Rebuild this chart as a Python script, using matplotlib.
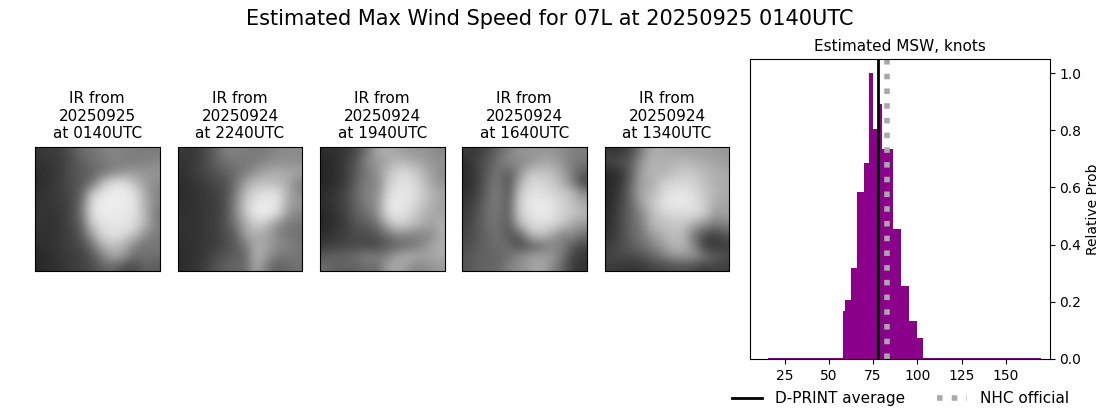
import numpy as np
import matplotlib
matplotlib.use('Agg')
import matplotlib.pyplot as plt

# --- histogram of estimated MSW ---
bin_edges = [15.6, 57.8, 58.9, 62.3, 65.7, 69.6, 72.5, 74.7, 78.1, 79.8, 86.0, 90.5, 95.0, 100.0, 103.0, 169.6]
rel_prob = [0.004, 0.168, 0.205, 0.318, 0.585, 0.685, 1.0, 0.805, 0.89, 0.733, 0.455, 0.255, 0.133, 0.073, 0.004]
dprint_avg = 77.5
nhc_official = 83.0

ir_labels = ['IR from\n20250925\nat 0140UTC', 'IR from\n20250924\nat 2240UTC', 'IR from\n20250924\nat 1940UTC',
             'IR from\n20250924\nat 1640UTC', 'IR from\n20250924\nat 1340UTC']

# coarse brightness of each IR tile, estimated by eye
ir_1 = [[55, 60, 65, 80, 110, 115, 125, 135, 130, 125, 125, 125],
        [50, 55, 60, 75, 95, 110, 120, 130, 125, 125, 130, 135],
        [45, 50, 60, 80, 90, 100, 115, 130, 150, 155, 150, 150],
        [45, 50, 65, 75, 90, 110, 190, 225, 225, 190, 155, 140],
        [50, 55, 60, 75, 95, 200, 230, 235, 235, 225, 170, 130],
        [50, 55, 60, 70, 110, 225, 235, 240, 235, 230, 175, 135],
        [55, 50, 55, 70, 115, 225, 235, 235, 230, 225, 180, 120],
        [50, 50, 55, 70, 100, 200, 225, 230, 230, 220, 180, 130],
        [50, 50, 55, 65, 85, 160, 215, 225, 215, 190, 140, 120],
        [45, 50, 55, 65, 75, 110, 175, 190, 175, 130, 115, 120],
        [40, 45, 55, 60, 65, 85, 130, 170, 150, 110, 115, 110],
        [40, 45, 50, 60, 65, 75, 95, 100, 75, 70, 100, 90]]
ir_2 = [[60, 55, 70, 90, 130, 130, 125, 120, 125, 135, 140, 140],
        [50, 55, 70, 95, 110, 120, 120, 125, 135, 145, 140, 140],
        [50, 60, 70, 80, 95, 110, 125, 150, 170, 175, 170, 165],
        [45, 50, 60, 70, 80, 110, 165, 190, 190, 185, 170, 130],
        [45, 50, 55, 65, 75, 120, 190, 215, 225, 225, 175, 135],
        [45, 50, 55, 60, 75, 130, 205, 235, 235, 230, 165, 150],
        [50, 50, 55, 60, 75, 130, 195, 235, 235, 215, 150, 130],
        [50, 50, 55, 60, 80, 115, 170, 205, 190, 140, 120, 120],
        [50, 50, 55, 60, 75, 90, 165, 170, 160, 135, 120, 110],
        [45, 50, 55, 60, 75, 90, 120, 175, 165, 140, 130, 120],
        [45, 50, 55, 70, 85, 95, 105, 185, 150, 120, 120, 115],
        [45, 50, 60, 80, 95, 100, 105, 170, 120, 95, 105, 115]]
ir_3 = [[45, 50, 55, 75, 110, 170, 170, 165, 150, 150, 145, 135],
        [40, 45, 60, 85, 135, 150, 170, 185, 175, 165, 150, 145],
        [40, 45, 60, 90, 120, 145, 190, 215, 215, 190, 165, 140],
        [40, 45, 60, 95, 130, 130, 200, 225, 225, 205, 170, 145],
        [45, 55, 70, 105, 130, 140, 215, 230, 230, 210, 185, 165],
        [45, 55, 70, 100, 125, 145, 230, 235, 225, 205, 180, 160],
        [40, 50, 65, 95, 110, 140, 220, 230, 215, 190, 170, 165],
        [40, 50, 60, 85, 90, 110, 175, 210, 195, 175, 160, 175],
        [45, 55, 65, 75, 75, 85, 110, 135, 130, 130, 135, 170],
        [60, 65, 70, 75, 70, 70, 90, 100, 110, 130, 160, 175],
        [90, 100, 100, 110, 130, 125, 135, 165, 180, 165, 165, 170],
        [110, 95, 100, 95, 110, 105, 160, 170, 145, 130, 145, 155]]
ir_4 = [[60, 55, 75, 100, 125, 150, 150, 150, 150, 140, 130, 125],
        [45, 70, 85, 115, 140, 135, 145, 165, 165, 150, 125, 120],
        [45, 60, 90, 120, 90, 140, 195, 195, 190, 165, 125, 90],
        [45, 60, 100, 125, 75, 170, 215, 215, 205, 180, 135, 70],
        [50, 65, 100, 130, 80, 200, 225, 225, 215, 205, 190, 140],
        [55, 75, 110, 125, 85, 210, 230, 235, 230, 210, 195, 170],
        [60, 80, 110, 120, 90, 205, 225, 235, 230, 210, 200, 180],
        [65, 85, 110, 115, 85, 175, 215, 220, 215, 200, 165, 150],
        [70, 85, 100, 115, 85, 90, 175, 195, 170, 125, 140, 110],
        [75, 90, 100, 110, 110, 75, 85, 110, 125, 135, 90, 70],
        [85, 95, 100, 100, 110, 140, 160, 160, 160, 120, 70, 55],
        [85, 95, 100, 105, 130, 140, 155, 170, 140, 105, 60, 50]]
ir_5 = [[55, 50, 70, 120, 175, 170, 165, 160, 160, 160, 155, 150],
        [70, 80, 90, 150, 180, 175, 180, 185, 175, 170, 165, 155],
        [40, 50, 90, 160, 185, 175, 190, 200, 200, 185, 175, 170],
        [40, 50, 100, 165, 170, 205, 215, 215, 210, 190, 175, 170],
        [40, 60, 105, 170, 180, 215, 225, 230, 220, 200, 180, 170],
        [40, 65, 100, 160, 195, 225, 235, 235, 225, 205, 170, 165],
        [45, 70, 100, 130, 185, 205, 215, 215, 220, 205, 155, 160],
        [45, 70, 100, 125, 180, 190, 195, 200, 165, 140, 120, 130],
        [50, 70, 100, 115, 150, 175, 190, 180, 120, 75, 60, 85],
        [60, 75, 90, 110, 125, 155, 180, 185, 135, 60, 55, 60],
        [65, 75, 75, 80, 100, 120, 145, 150, 150, 120, 95, 80],
        [60, 55, 50, 55, 65, 70, 75, 80, 70, 60, 65, 60]]
ir_tiles = [ir_1, ir_2, ir_3, ir_4, ir_5]

W, H = 1100, 409


def px_axes(fig, left, top, right, bottom):
    # axes placed by pixel box, y counted from the top of the image
    return fig.add_axes([left / W, 1 - bottom / H, (right - left) / W, (bottom - top) / H])


fig = plt.figure(figsize=(W / 100, H / 100), dpi=100)
fig.suptitle('Estimated Max Wind Speed for 07L at 20250925 0140UTC', fontsize=15, x=0.5, y=0.977)

# IR tiles
tile_lefts = [35, 177.7, 320, 462, 604.7]
for left, tile, label in zip(tile_lefts, ir_tiles, ir_labels):
    ax = px_axes(fig, left, 147, left + 124.6, 271)
    ax.imshow(np.array(tile), cmap='gray', vmin=0, vmax=255, interpolation='bicubic', aspect='auto')
    # stay just inside the image, the resampled edge leaves a white line otherwise
    ax.set_xlim(-0.4, 11.4)
    ax.set_ylim(11.4, -0.4)
    ax.set_xticks([])
    ax.set_yticks([])
    ax.set_title(label, fontsize=11, pad=6.5)

# histogram
ax = px_axes(fig, 750, 59, 1049.7, 359)
ax.stairs(rel_prob, bin_edges, fill=True, color='darkmagenta')
line_avg = ax.axvline(dprint_avg, color='black', lw=2, label='D-PRINT average')
line_nhc = ax.axvline(nhc_official, color='darkgray', lw=4, ls=':', label='NHC official')
ax.set_xlim(5.5, 174.7)
ax.set_ylim(0, 1.049)
ax.set_xticks([25, 50, 75, 100, 125, 150])
ax.set_yticks([0, 0.2, 0.4, 0.6, 0.8, 1.0])
ax.yaxis.tick_right()
ax.yaxis.set_label_position('right')
ax.set_ylabel('Relative Prob', labelpad=3)
ax.set_title('Estimated MSW, knots', fontsize=11)

fig.legend(handles=[line_avg, line_nhc], ncol=2, frameon=False, fontsize=11, columnspacing=2.1,
           loc='upper left', bbox_to_anchor=(718 / W, 0.078))

fig.savefig('out.png', dpi=100)
